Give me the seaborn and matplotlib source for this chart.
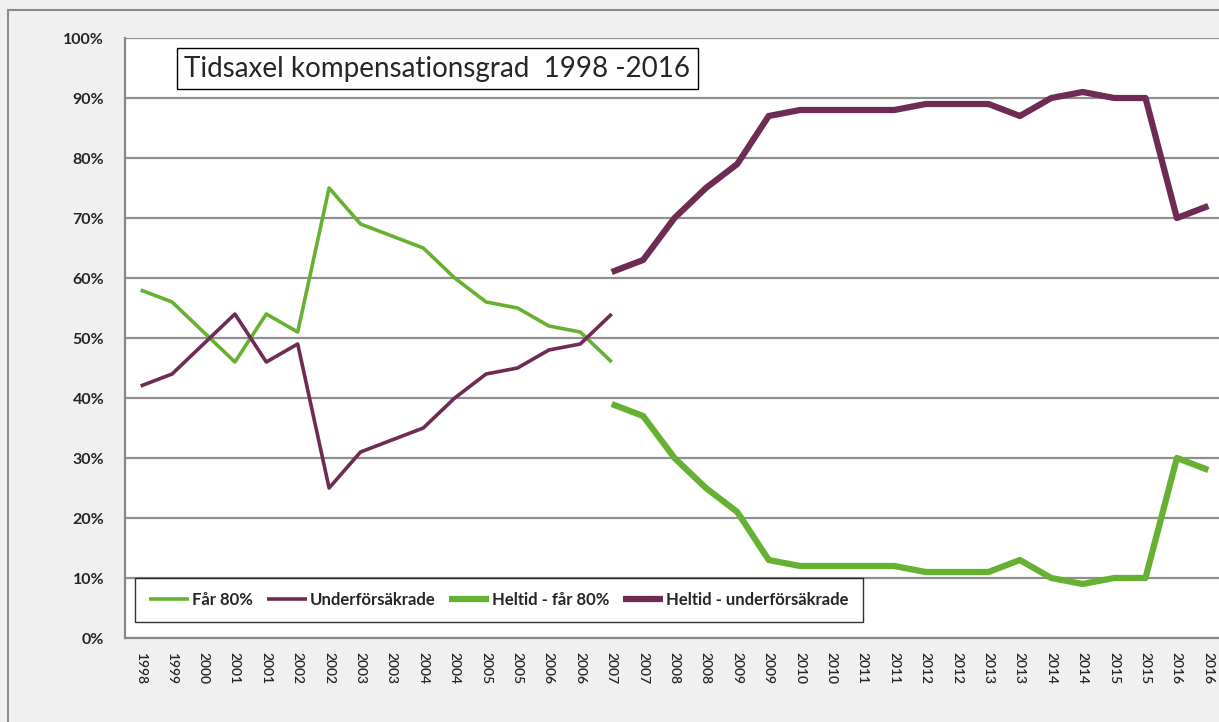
import matplotlib
matplotlib.use("Agg")
import matplotlib.pyplot as plt
import matplotlib.patches as patches
import numpy as np
import pandas as pd
import seaborn as sns

# kategorier pa x-axeln (halvarsvis, som i originalet)
years = ["1998", "1999", "2000", "2001", "2001", "2002", "2002", "2003", "2003",
         "2004", "2004", "2005", "2005", "2006", "2006", "2007", "2007", "2008",
         "2008", "2009", "2009", "2010", "2010", "2011", "2011", "2012", "2012",
         "2013", "2013", "2014", "2014", "2015", "2015", "2016", "2016"]

nan = np.nan
far80 = [58, 56, 51, 46, 54, 51, 75, 69, 67, 65, 60, 56, 55, 52, 51, 46] + [nan] * 19
under = [42, 44, 49, 54, 46, 49, 25, 31, 33, 35, 40, 44, 45, 48, 49, 54] + [nan] * 19
heltid_far80 = [nan] * 15 + [39, 37, 30, 25, 21, 13, 12, 12, 12, 12, 11, 11, 11, 13,
                             10, 9, 10, 10, 30, 28]
heltid_under = [nan] * 15 + [61, 63, 70, 75, 79, 87, 88, 88, 88, 88, 89, 89, 89, 87,
                             90, 91, 90, 90, 70, 72]

green = "#66b132"
purple = "#6e2b54"

df = pd.DataFrame({"pos": np.arange(len(years)),
                   "Får 80%": far80,
                   "Underförsäkrade": under,
                   "Heltid - får 80%": heltid_far80,
                   "Heltid - underförsäkrade": heltid_under})

sns.set_style("white")
plt.rcParams["font.family"] = ["Lato", "DejaVu Sans"]

fig = plt.figure(figsize=(12.19, 7.22), dpi=100, facecolor="#f0f0f0")
fig.patches.append(patches.Rectangle((8 / 1219, -0.1), 1.2, 1 - 10 / 722 + 0.1,
                                     transform=fig.transFigure, fill=False,
                                     edgecolor="#8c8c8c", linewidth=1.5))
ax = fig.add_axes([125 / 1219, 84 / 722, 35 * 31.4 / 1219, 600 / 722])
ax.set_facecolor("white")

styles = [("Får 80%", green, 2.6), ("Underförsäkrade", purple, 2.6),
          ("Heltid - får 80%", green, 4.5), ("Heltid - underförsäkrade", purple, 4.5)]
for name, col, lw in styles:
    sns.lineplot(data=df, x="pos", y=name, ax=ax, color=col, linewidth=lw,
                 label=name, solid_capstyle="butt")

ax.set_xlim(-0.5, len(years) - 0.5)
ax.set_ylim(0, 100)
ax.set_yticks(np.arange(0, 101, 10))
ax.set_yticklabels([f"{v}%" for v in range(0, 101, 10)], fontsize=11.5,
                   fontweight="bold")
ax.set_xticks(np.arange(len(years)))
ax.set_xticklabels(years, rotation=270, fontsize=10, fontweight="semibold")
ax.set_xticks(np.arange(len(years) + 1) - 0.5, minor=True)
ax.tick_params(axis="x", which="major", length=0, pad=10)
ax.tick_params(axis="x", which="minor", length=6, color="#888888", direction="out")
ax.tick_params(axis="y", length=6, color="#888888", direction="out", pad=9)
ax.grid(axis="y", color="#8f8f8f", linewidth=1.6)
ax.set_axisbelow(True)
ax.set_xlabel("")
ax.set_ylabel("")
for s in ["top", "right"]:
    ax.spines[s].set_visible(False)
for s in ["left", "bottom"]:
    ax.spines[s].set_color("#888888")
    ax.spines[s].set_linewidth(1.6)

ax.text(0.054, 0.949, "Tidsaxel kompensationsgrad  1998 -2016", transform=ax.transAxes,
        fontsize=20, ha="left", va="center",
        bbox=dict(boxstyle="square,pad=0.28", facecolor="white", edgecolor="black",
                  linewidth=1))

leg = ax.legend(loc="lower left", bbox_to_anchor=(0.0015, 0.013), ncol=4,
                frameon=True, fancybox=False, borderpad=0.85, handlelength=2.4,
                handletextpad=0.2, columnspacing=0.8,
                prop={"weight": "bold", "size": 12})
leg.get_frame().set_edgecolor("black")
leg.get_frame().set_linewidth(1)

fig.savefig("out.png", dpi=100, facecolor=fig.get_facecolor())
